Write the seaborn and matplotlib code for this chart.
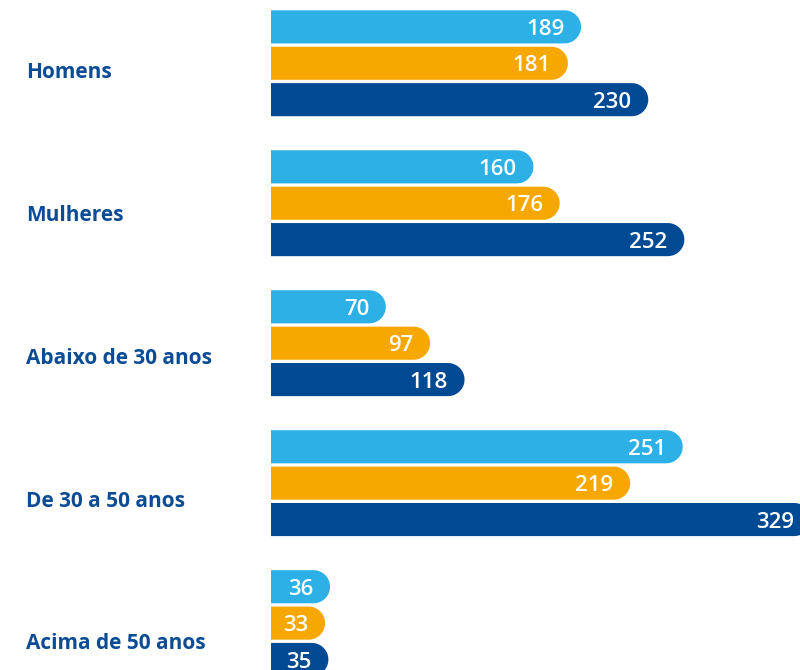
import matplotlib
matplotlib.use("Agg")
import matplotlib.pyplot as plt
import matplotlib.transforms as mtransforms
from matplotlib.path import Path
from matplotlib.patches import PathPatch
import numpy as np
import pandas as pd
import seaborn as sns

# ─── Data ─────────────────────────────────────────────────────────────────────
grupos = ["Homens", "Mulheres", "Abaixo de 30 anos", "De 30 a 50 anos", "Acima de 50 anos"]
series = ["Série 1", "Série 2", "Série 3"]
serie_1 = [189, 160, 70, 251, 36]
serie_2 = [181, 176, 97, 219, 33]
serie_3 = [230, 252, 118, 329, 35]

CORES = ["#2DB0E6", "#F7A800", "#004A94"]
COR_TEXTO = "#0B4C95"

df = pd.DataFrame({
    "grupo": grupos * 3,
    "serie": [s for s in series for _ in grupos],
    "valor": serie_1 + serie_2 + serie_3,
})

sns.set_style("white")
plt.rcParams["font.family"] = ["Open Sans", "DejaVu Sans"]

fig = plt.figure(figsize=(8, 6.7), dpi=100)
ax = fig.add_axes([271 / 800, 0, 529 / 800, 1])

sns.barplot(data=df, y="grupo", x="valor", hue="serie", orient="h",
            palette=CORES, saturation=1, width=0.78, gap=0.09, legend=False,
            ax=ax, order=grupos, hue_order=series, errorbar=None)

ax.set_xlim(0, 322.5)
ax.set_ylim(4.335, -0.452)
fig.canvas.draw()

# px per data unit, so the right-hand caps look circular
sx = ax.transData.transform((1, 0))[0] - ax.transData.transform((0, 0))[0]
sy = abs(ax.transData.transform((0, 1))[1] - ax.transData.transform((0, 0))[1])

bars = [(p.get_x(), p.get_y(), p.get_width(), p.get_height(), p.get_facecolor())
        for p in ax.patches]
for p in list(ax.patches):
    p.remove()

# rebuild each bar with a rounded right end
for x0, y0, w, h, fc in bars:
    if w <= 0:
        continue
    y_top, y_bot = min(y0, y0 + h), max(y0, y0 + h)
    hh = y_bot - y_top
    rx = (hh * sy / 2) / sx
    ry = hh / 2
    yc = (y_top + y_bot) / 2
    xc = max(x0 + w - rx, x0)
    t = np.linspace(np.pi / 2, -np.pi / 2, 30)
    arc = np.column_stack([xc + rx * np.cos(t), yc - ry * np.sin(t)])
    verts = [(x0, y_top), (xc, y_top)] + [tuple(v) for v in arc] + [(x0, y_bot), (x0, y_top)]
    codes = [Path.MOVETO] + [Path.LINETO] * (len(verts) - 2) + [Path.CLOSEPOLY]
    ax.add_patch(PathPatch(Path(verts, codes), facecolor=fc, edgecolor="none"))

# value labels inside the bar ends
for j, vals in enumerate([serie_1, serie_2, serie_3]):
    for i, v in enumerate(vals):
        y = i + (j - 1) * 0.26
        ax.annotate(f"{v}", xy=(v, y), xytext=(-12, 0), textcoords="offset points",
                    ha="right", va="center_baseline", color="white",
                    fontsize=16, fontweight="semibold", annotation_clip=False)

# category labels at the left
trans = mtransforms.blended_transform_factory(fig.transFigure, ax.transData)
for i, g in enumerate(grupos):
    ax.text(26 / 800, i + 0.068 + 0.02 * i, g, transform=trans,
            ha="left", va="center", color=COR_TEXTO, fontsize=15,
            fontweight="bold", clip_on=False)

ax.set_yticks([])
ax.set_xticks([])
ax.set_xlabel("")
ax.set_ylabel("")
sns.despine(ax=ax, left=True, bottom=True)

fig.savefig("out.png", dpi=100)
